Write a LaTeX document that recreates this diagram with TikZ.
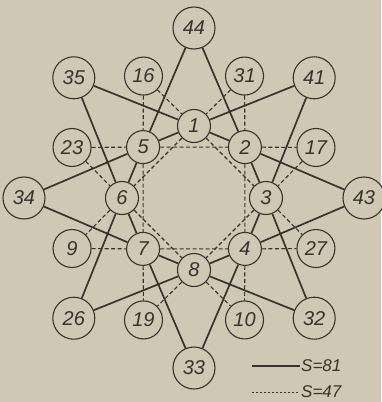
\documentclass[tikz,border=0pt]{standalone}
\usepackage{fontspec}
\setsansfont{Liberation Sans}
\usepackage{xcolor}
\definecolor{msink}{HTML}{3A332B}
\definecolor{mspaper}{HTML}{CFC8B4}
\usepackage{tikz}
\usetikzlibrary{calc}
\tikzset{
  msouter/.style ={circle, draw=msink, fill=mspaper, line width=1.1pt,
                   minimum size=42pt, inner sep=0pt, text=msink,
                   font=\fontsize{20}{22}\selectfont\sffamily\itshape},
  msmid/.style   ={msouter, minimum size=38pt},
  msinner/.style ={msouter, minimum size=33pt},
  msline/.style  ={draw=msink, line width=1.7pt},
  msdash/.style  ={draw=msink, line width=1.1pt, dash pattern=on 4pt off 2.5pt},
  mskey/.style   ={font=\fontsize{17}{19}\selectfont\sffamily\itshape,
                   text=msink, inner sep=1pt},
}

\begin{document}
\begin{tikzpicture}[x=1pt,y=1pt]
  \fill[mspaper] (-194,-204) rectangle (187,198);
  \useasboundingbox (-194,-204) rectangle (187,198);
  % inner ring
  \foreach \n/\a in {1/90, 2/45, 3/0, 4/-45, 8/-90, 7/-135, 6/180, 5/135}{
    \node[msinner] (n\n) at (\a:72) {\n};}
  % middle ring
  \foreach \n/\a in {31/67.5, 16/112.5, 23/157.5, 9/-157.5, 19/-112.5, 10/-67.5, 27/-22.5, 17/22.5}{
    \node[msmid] (n\n) at (\a:132) {\n};}
  % outer ring
  \foreach \n/\a in {44/90, 41/45, 43/0, 32/-45, 33/-90, 26/-135, 34/180, 35/135}{
    \node[msouter] (n\n) at (\a:170) {\n};}
  % rows with S = 81
  \foreach \p/\q/\r/\s in {44/5/6/26, 44/2/3/32, 35/1/2/43, 35/6/7/33,
                           41/1/5/34, 41/3/4/33, 43/4/8/26, 34/7/8/32}{
    \draw[msline] (n\p) -- (n\q) -- (n\r) -- (n\s);}
  % rows with S = 47
  \foreach \p/\q/\r/\s in {16/5/7/19, 31/2/4/10, 23/5/2/17, 9/7/4/27,
                           16/1/3/27, 31/1/6/9, 23/6/8/10, 17/3/8/19}{
    \draw[msdash] (n\p) -- (n\q) -- (n\r) -- (n\s);}
  % key
  \node[mskey, anchor=west] (keysolid) at (106,-168) {S=81};
  \node[mskey, anchor=west] (keydash) at (106,-194) {S=47};
  \coordinate (keysolidend) at (58,-168);
  \coordinate (keydashend) at (58,-194);
  \draw[msline] (keysolidend) -- (keysolid.west);
  \draw[msdash, line width=0.8pt, dash pattern=on 2.5pt off 1.5pt] (keydashend) -- (keydash.west);
\end{tikzpicture}
\end{document}
